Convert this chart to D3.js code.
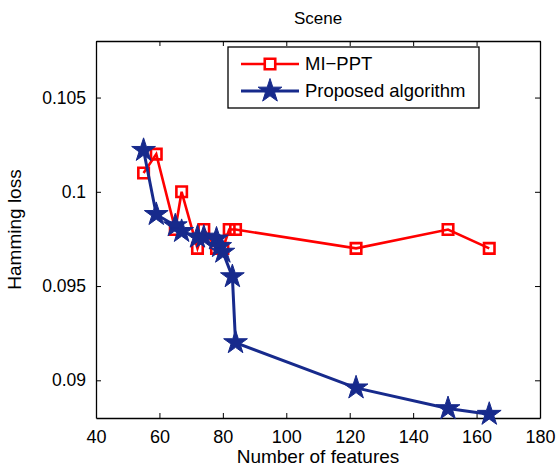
<!DOCTYPE html>
<meta charset="utf-8">
<head>
  <title>Scene</title>
</head>
<style>
  body { margin: 0; background: #fff; }
  text { font-family: "Liberation Sans", Arial, sans-serif; fill: #000; }
</style>

<script src="https://d3js.org/d3.v7.min.js"></script>

<div id="my_dataviz"></div>

<script>
  // data
  var mippt_x = [55, 59, 65, 67, 72, 74, 78, 80, 82, 84, 122, 151, 164];
  var mippt_y = [0.101, 0.102, 0.098, 0.100, 0.097, 0.098, 0.097, 0.097, 0.098, 0.098, 0.097, 0.098, 0.097];

  var proposed_x = [55, 59, 65, 67, 72, 74, 78, 79, 80, 83, 84, 122, 151, 164];
  var proposed_y = [0.1022, 0.0988, 0.0982, 0.0979, 0.0976, 0.0976, 0.0975, 0.0971, 0.0968, 0.0955, 0.0920, 0.0896, 0.0885, 0.0882];

  var xTicks = [40, 60, 80, 100, 120, 140, 160, 180];
  var yTicks = [0.09, 0.095, 0.1, 0.105];

  var seriesNames = ["MI\u2212PPT", "Proposed algorithm"];

  // set the dimensions and margins of the graph
  var margin = { top: 41, right: 16, bottom: 50, left: 96 },
    width = 556 - margin.left - margin.right,
    height = 468 - margin.top - margin.bottom;

  var red = "#ff0000",
    navy = "#172a8c";

  var svg = d3.select("#my_dataviz")
    .append("svg")
    .attr("width", 556)
    .attr("height", 468)
    .append("g")
    .attr("transform", "translate(" + margin.left + "," + margin.top + ")");

  var x = d3.scaleLinear().domain([40, 180]).range([0, width]);
  var y = d3.scaleLinear().domain([0.088, 0.108]).range([height, 0]);

  // axes, ticks inward on all four sides (box on)
  svg.append("g")
    .attr("transform", "translate(0," + height + ")")
    .call(d3.axisBottom(x).tickValues(xTicks).tickSizeInner(-5).tickSizeOuter(0).tickPadding(12))
    .call(function(g) { g.selectAll("text").style("font-size", "18px"); });

  svg.append("g")
    .call(d3.axisTop(x).tickValues(xTicks).tickSizeInner(-5).tickSizeOuter(0).tickFormat(""));

  svg.append("g")
    .call(d3.axisLeft(y).tickValues(yTicks).tickSizeInner(-5).tickSizeOuter(0).tickPadding(10)
      .tickFormat(function(d) { return String(+d.toFixed(3)); }))
    .call(function(g) { g.selectAll("text").style("font-size", "17.5px"); });

  svg.append("g")
    .attr("transform", "translate(" + width + ",0)")
    .call(d3.axisRight(y).tickValues(yTicks).tickSizeInner(-5).tickSizeOuter(0).tickFormat(""));

  svg.selectAll(".domain").attr("stroke", "#000").attr("stroke-width", 1.3);
  svg.selectAll(".tick line").attr("stroke", "#000");

  // title and axis labels
  svg.append("text")
    .attr("x", width / 2)
    .attr("y", -17)
    .style("text-anchor", "middle")
    .style("font-size", "17px")
    .text("Scene");

  svg.append("text")
    .attr("x", width / 2)
    .attr("y", height + 45)
    .style("text-anchor", "middle")
    .style("font-size", "19px")
    .text("Number of features");

  svg.append("text")
    .attr("transform", "rotate(-90)")
    .attr("x", -(height / 2))
    .attr("y", -75)
    .style("text-anchor", "middle")
    .style("font-size", "19px")
    .text("Hamming loss");

  var mippt = mippt_x.map(function(d, i) { return [d, mippt_y[i]]; });
  var proposed = proposed_x.map(function(d, i) { return [d, proposed_y[i]]; });

  var line = d3.line()
    .x(function(d) { return x(d[0]); })
    .y(function(d) { return y(d[1]); });

  var square = d3.symbol().type(d3.symbolSquare).size(110);
  var star = d3.symbol().type(d3.symbolStar).size(175);

  // MI-PPT
  svg.append("path")
    .datum(mippt)
    .attr("fill", "none")
    .attr("stroke", red)
    .attr("stroke-width", 2.6)
    .attr("d", line);

  svg.append("g")
    .selectAll("path")
    .data(mippt)
    .enter()
    .append("path")
    .attr("transform", function(d) { return "translate(" + x(d[0]) + "," + y(d[1]) + ")"; })
    .attr("d", square)
    .attr("fill", "none")
    .attr("stroke", red)
    .attr("stroke-width", 2.6);

  // Proposed algorithm
  svg.append("path")
    .datum(proposed)
    .attr("fill", "none")
    .attr("stroke", navy)
    .attr("stroke-width", 3)
    .attr("d", line);

  svg.append("g")
    .selectAll("path")
    .data(proposed)
    .enter()
    .append("path")
    .attr("transform", function(d) { return "translate(" + x(d[0]) + "," + y(d[1]) + ")"; })
    .attr("d", star)
    .attr("fill", navy)
    .attr("stroke", navy)
    .attr("stroke-width", 1);

  // legend
  var legend = svg.append("g")
    .attr("transform", "translate(" + (228 - margin.left) + "," + (47 - margin.top) + ")");

  legend.append("rect")
    .attr("width", 251)
    .attr("height", 61)
    .attr("fill", "#fff")
    .attr("stroke", "#000")
    .attr("stroke-width", 1.3);

  var rows = [
    { name: seriesNames[0], color: red, w: 2.6, mark: square, filled: false },
    { name: seriesNames[1], color: navy, w: 3, mark: star, filled: true }
  ];

  var row = legend.selectAll(".row")
    .data(rows)
    .enter()
    .append("g")
    .attr("transform", function(d, i) { return "translate(0," + (17 + i * 27) + ")"; });

  row.append("line")
    .attr("x1", 13).attr("x2", 71)
    .attr("stroke", function(d) { return d.color; })
    .attr("stroke-width", function(d) { return d.w; });

  row.append("path")
    .attr("transform", "translate(42,0)")
    .attr("d", function(d) { return d.mark(); })
    .attr("fill", function(d) { return d.filled ? d.color : "#fff"; })
    .attr("stroke", function(d) { return d.color; })
    .attr("stroke-width", function(d) { return d.filled ? 1 : 2.6; });

  row.append("text")
    .attr("x", 77)
    .attr("dy", "0.35em")
    .style("font-size", "18.5px")
    .text(function(d) { return d.name; });
</script>
